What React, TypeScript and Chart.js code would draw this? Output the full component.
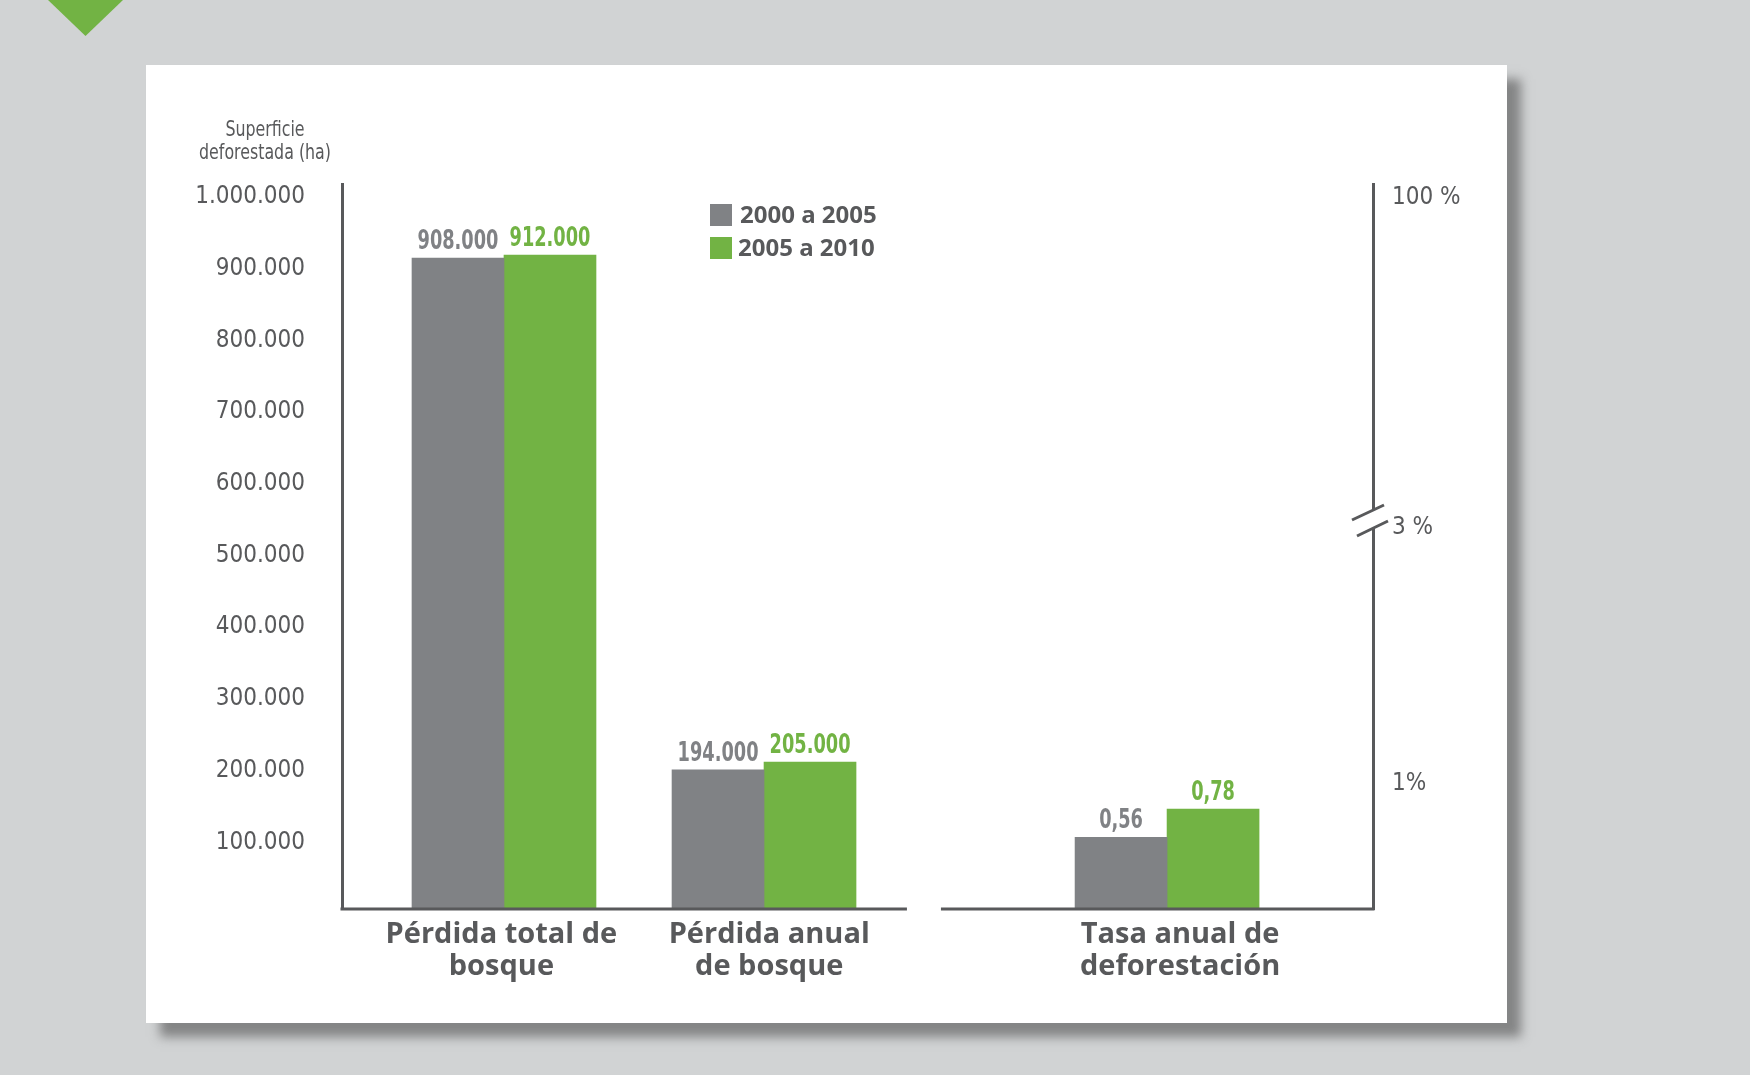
import React, { useEffect, useRef } from "react";
import { Chart, registerables } from "chart.js";

Chart.register(...registerables);

// ---------- data ----------
const categories: string[][] = [
  ["Pérdida total de", "bosque"],
  ["Pérdida anual", "de bosque"],
  ["Tasa anual de", "deforestación"],
];
const seriesNames = ["2000 a 2005", "2005 a 2010"];
const lossGray = [908000, 194000]; // ha
const lossGreen = [912000, 205000]; // ha
const rateGray = [0.56]; // %
const rateGreen = [0.78]; // %
const leftTicks = [100000, 200000, 300000, 400000, 500000, 600000, 700000, 800000, 900000, 1000000];
const rightTickValues = [1, 3, 5.578];
const rightTickLabels = ["1%", "3 %", "100 %"];
const axisTitle = ["Superficie", "deforestada (ha)"];

// ---------- layout constants (not data) ----------
const GROUP_X = [1, 2, 3.55];
const LABEL_X = [0.99, 2.02, 3.6];
const X_MIN = 0.377;
const X_MAX = 4.342;
const BREAK_X = 2.615;
const Y_MAX = 1011200;
const Y2_MAX = 5.664;

const GRAY = "#808285";
const GREEN = "#72b344";
const DARK = "#58595b";
const NARROW = '"Liberation Sans Narrow", "DejaVu Sans Condensed", "Roboto Condensed", sans-serif';
const BOLD = '"Open Sans", "Noto Sans", sans-serif';

const fmtThousands = (v: number) => String(Math.round(v)).replace(/\B(?=(\d{3})+(?!\d))/g, ".");
const fmtRate = (v: number) => v.toFixed(2).replace(".", ",");

function condensedText(ctx: any, txt: string, x: number, y: number, sx: number) {
  ctx.save();
  ctx.translate(x, y);
  ctx.scale(sx, 1);
  ctx.fillText(txt, 0, 0);
  ctx.restore();
}

const decorPlugin = {
  id: "decor",
  afterDatasetsDraw(chart: any) {
    const { ctx, chartArea, scales } = chart;
    ctx.save();
    // baseline segments
    const gx = scales.x.getPixelForValue(BREAK_X);
    ctx.strokeStyle = DARK;
    ctx.lineWidth = 3;
    ctx.beginPath();
    ctx.moveTo(chartArea.left - 1.5, chartArea.bottom);
    ctx.lineTo(gx - 17, chartArea.bottom);
    ctx.moveTo(gx + 17, chartArea.bottom);
    ctx.lineTo(chartArea.right + 1.5, chartArea.bottom);
    ctx.stroke();

    // value labels
    chart.data.datasets.forEach((ds: any, di: number) => {
      const meta = chart.getDatasetMeta(di);
      meta.data.forEach((el: any, i: number) => {
        const v = ds.data[i].y;
        const txt = ds.yAxisID === "y2" ? fmtRate(v) : fmtThousands(v);
        ctx.fillStyle = ds.backgroundColor;
        ctx.font = `bold 26px ${NARROW}`;
        ctx.textAlign = "center";
        ctx.textBaseline = "alphabetic";
        condensedText(ctx, txt, el.x, el.y - 9, 0.76);
      });
    });

    // break symbol on right axis
    const bx = chartArea.right;
    const by = scales.y2.getPixelForValue(3) + 3;
    ctx.fillStyle = "#ffffff";
    ctx.beginPath();
    ctx.moveTo(bx - 21, by - 8);
    ctx.lineTo(bx + 11, by - 23);
    ctx.lineTo(bx + 15, by - 7);
    ctx.lineTo(bx - 16, by + 8);
    ctx.closePath();
    ctx.fill();
    ctx.strokeStyle = DARK;
    ctx.lineWidth = 3;
    ctx.beginPath();
    ctx.moveTo(bx - 21, by - 8);
    ctx.lineTo(bx + 11, by - 23);
    ctx.moveTo(bx - 16, by + 8);
    ctx.lineTo(bx + 15, by - 7);
    ctx.stroke();

    // legend
    const colors = [GRAY, GREEN];
    seriesNames.forEach((name, i) => {
      const y = 139 + i * 33;
      ctx.fillStyle = colors[i];
      ctx.fillRect(564, y, 22, 22);
      ctx.fillStyle = DARK;
      ctx.font = `bold 24px ${BOLD}`;
      ctx.textAlign = "left";
      ctx.textBaseline = "middle";
      ctx.fillText(name, 594 - i * 2, y + 12);
    });

    // axis title
    ctx.fillStyle = DARK;
    ctx.font = `22px ${NARROW}`;
    ctx.textAlign = "center";
    ctx.textBaseline = "middle";
    condensedText(ctx, axisTitle[0], 119, 65, 0.8);
    condensedText(ctx, axisTitle[1], 119, 88, 0.8);
    ctx.restore();
  },
};

export default function App() {
  const ref = useRef<HTMLCanvasElement | null>(null);

  useEffect(() => {
    document.body.style.margin = "0";
    if (!ref.current) return;
    const chart = new Chart(ref.current, {
      type: "bar",
      data: {
        datasets: [
          {
            label: seriesNames[0],
            data: lossGray.map((v, i) => ({ x: GROUP_X[i], y: v })),
            backgroundColor: GRAY,
            yAxisID: "y",
            stack: "a",
          },
          {
            label: seriesNames[1],
            data: lossGreen.map((v, i) => ({ x: GROUP_X[i], y: v })),
            backgroundColor: GREEN,
            yAxisID: "y",
            stack: "b",
          },
          {
            label: seriesNames[0],
            data: rateGray.map((v) => ({ x: GROUP_X[2], y: v })),
            backgroundColor: GRAY,
            yAxisID: "y2",
            stack: "a",
          },
          {
            label: seriesNames[1],
            data: rateGreen.map((v) => ({ x: GROUP_X[2], y: v })),
            backgroundColor: GREEN,
            yAxisID: "y2",
            stack: "b",
          },
        ] as any,
      },
      options: {
        animation: false,
        responsive: false,
        devicePixelRatio: 1,
        barThickness: 92,
        layout: { padding: { top: 119, left: 0, right: 0, bottom: 0 } },
        plugins: { legend: { display: false }, tooltip: { enabled: false } },
        scales: {
          x: {
            type: "linear",
            min: X_MIN,
            max: X_MAX,
            offset: false,
            grid: { display: false, drawTicks: false, offset: false },
            border: { display: false },
            afterBuildTicks: (s: any) => {
              s.ticks = LABEL_X.map((v) => ({ value: v }));
            },
            afterFit: (s: any) => {
              s.height = 114;
            },
            ticks: {
              autoSkip: false,
              maxRotation: 0,
              padding: 10,
              color: DARK,
              font: { family: BOLD, size: 29, weight: "bold", lineHeight: 1.1 },
              callback: (_v: any, i: number) => categories[i],
            },
          },
          y: {
            position: "left",
            min: 0,
            max: Y_MAX,
            stacked: false,
            grid: { display: false, drawTicks: false },
            border: { display: true, color: DARK, width: 3 },
            afterBuildTicks: (s: any) => {
              s.ticks = leftTicks.map((v) => ({ value: v }));
            },
            afterFit: (s: any) => {
              s.width = 196;
            },
            ticks: {
              padding: 37,
              labelOffset: 5,
              color: DARK,
              font: { family: NARROW, size: 24 },
              callback: (v: any) => fmtThousands(Number(v)),
            },
          },
          y2: {
            position: "right",
            min: 0,
            max: Y2_MAX,
            stacked: false,
            grid: { display: false, drawTicks: false },
            border: { display: true, color: DARK, width: 3 },
            afterBuildTicks: (s: any) => {
              s.ticks = rightTickValues.map((v) => ({ value: v }));
            },
            afterFit: (s: any) => {
              s.width = 134;
            },
            ticks: {
              padding: 19,
              labelOffset: 3,
              color: DARK,
              font: { family: NARROW, size: 24 },
              callback: (_v: any, i: number) => rightTickLabels[i],
            },
          },
        },
      } as any,
      plugins: [decorPlugin],
    });
    return () => chart.destroy();
  }, []);

  return (
    <div
      style={{
        position: "absolute",
        left: 0,
        top: 0,
        width: 1750,
        height: 1075,
        background: "#d1d3d4",
        overflow: "hidden",
      }}
    >
      <div
        style={{
          position: "absolute",
          left: 48,
          top: 0,
          width: 75,
          height: 36,
          background: GREEN,
          clipPath: "polygon(0 0, 100% 0, 50% 100%)",
        }}
      />
      <div
        style={{
          position: "absolute",
          left: 146,
          top: 65,
          width: 1361,
          height: 958,
          background: "#ffffff",
          boxShadow: "14px 14px 10px rgba(70,70,70,0.55)",
        }}
      >
        <canvas ref={ref} width={1361} height={958} style={{ width: 1361, height: 958, display: "block" }} />
      </div>
    </div>
  );
}
